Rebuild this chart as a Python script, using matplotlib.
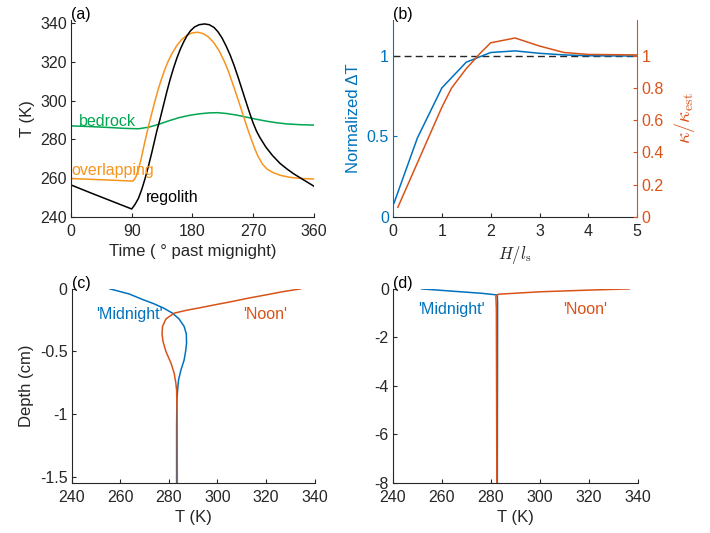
import matplotlib
matplotlib.use("Agg")
from matplotlib import pyplot as plt

plt.rcParams['font.family'] = ['Liberation Sans', 'DejaVu Sans']
plt.rcParams['mathtext.fontset'] = 'cm'
plt.rcParams['axes.unicode_minus'] = False

# couleurs
BLEU = '#0072BD'
ROUGE = '#D95319'
ORANGE = '#F7941D'
VERT = '#00A651'
GRIS = '#262626'

# (a) temperature vs time
t_reg = [0, 30, 60, 90, 95, 100, 105, 110, 115, 120, 127, 132, 137, 142, 147,
         152, 157, 162, 167, 172, 177, 183, 190, 198, 205, 212, 218, 224, 230,
         236, 242, 248, 254, 260, 265, 270, 275, 280, 289, 299, 310, 320, 330,
         343, 360]
T_reg = [256.5, 252.3, 248.2, 244.1, 246.5, 249.6, 254.3, 260, 266.5, 273.5,
         284, 290.5, 297.5, 304.5, 311, 316.8, 322, 326.5, 330.3, 333.5, 336,
         338, 339.2, 339.6, 339.2, 337.8, 335.5, 332.3, 328.2, 323.5, 318,
         311.8, 305.3, 298.8, 293.5, 288.5, 284.3, 281, 276, 271.6, 267.6,
         264.8, 262.3, 259.5, 255.9]

t_ovl = [0, 45, 92, 96, 100, 104, 109, 114, 119, 124, 129, 134, 139, 144, 150,
         157, 164, 172, 180, 188, 196, 204, 212, 220, 227, 233, 240, 247, 252,
         257, 262, 267, 272, 277, 284, 291, 299, 310, 325, 343, 360]
T_ovl = [259.8, 259.2, 258.5, 260.5, 264.5, 270, 278, 285.5, 292.5, 299.2,
         305.5, 311, 316, 320.3, 324.5, 328.5, 331.5, 333.8, 335, 335.3, 334.6,
         332.8, 329.8, 325.5, 320.5, 315.5, 308.5, 301.3, 296, 290.6, 285.3,
         280.4, 275.6, 271.5, 267.2, 264.6, 263.0, 261.5, 260.4, 259.8, 259.6]

t_bed = [0, 30, 60, 80, 100, 115, 130, 145, 160, 175, 190, 205, 217, 230, 245,
         260, 275, 290, 305, 320, 340, 360]
T_bed = [287.0, 286.6, 286.1, 285.7, 285.5, 286.3, 287.8, 289.6, 291.2, 292.4,
         293.2, 293.7, 293.8, 293.4, 292.6, 291.5, 290.4, 289.4, 288.6, 288.0,
         287.6, 287.4]

# (b) normalized dT and kappa ratio
H_dT = [0.02, 0.5, 1.0, 1.5, 2.0, 2.5, 3.0, 3.5, 4.0, 5.0]
dT = [0.085, 0.49, 0.80, 0.96, 1.02, 1.03, 1.015, 1.005, 1.0, 0.998]
H_k = [0.1, 1.0, 1.2, 1.5, 1.8, 2.0, 2.5, 3.0, 3.5, 4.0, 5.0]
kap = [0.06, 0.68, 0.80, 0.92, 1.02, 1.08, 1.11, 1.06, 1.02, 1.008, 1.005]

# (c) profiles, shallow
Tc_mid = [255.7, 263.6, 269.2, 274, 278, 281.5, 284.2, 286.3, 287.2, 287.3,
          286.9, 286.3, 285.0, 284.0, 283.6, 283.3, 283.2, 283.2]
zc_mid = [0, -0.04, -0.085, -0.12, -0.155, -0.194, -0.24, -0.30, -0.36, -0.434,
          -0.50, -0.568, -0.647, -0.727, -0.81, -0.9, -1.1, -1.56]
Tc_noon = [334.2, 327, 320, 313, 306.3, 299, 292.5, 287, 282.2, 278.8, 277.4,
           277.2, 277.6, 278.8, 280.9, 282.2, 282.9, 283.2, 283.4, 283.5]
zc_noon = [0, -0.022, -0.048, -0.073, -0.10, -0.127, -0.152, -0.172, -0.194,
           -0.24, -0.30, -0.36, -0.42, -0.50, -0.594, -0.674, -0.754, -0.81,
           -1.0, -1.56]

# (d) profiles, deep
Td_mid = [251.6, 265, 276, 282.6, 282.7, 282.6]
zd_mid = [0, -0.1, -0.18, -0.25, -0.6, -8]
Td_noon = [336.5, 320, 300, 283, 282, 282.2, 282.4]
zd_noon = [0, -0.05, -0.12, -0.22, -0.3, -0.8, -8]

TAILLE = 11.5   # graduations et annotations
TLAB = 12       # titres des axes


def style(ax):
    for s in ['top', 'right']:
        ax.spines[s].set_visible(False)
    for s in ['left', 'bottom']:
        ax.spines[s].set_color(GRIS)
        ax.spines[s].set_linewidth(0.8)
    ax.tick_params(direction='in', length=3, colors=GRIS, labelsize=TAILLE,
                   width=0.8)
    ax.tick_params(axis='x', pad=5)
    ax.tick_params(axis='y', pad=3)


def lettre(ax, txt):
    ax.text(0.0, 0.99, txt, transform=ax.transAxes, ha='left', va='bottom',
            fontsize=TAILLE, color='black')


fig = plt.figure(figsize=(7.1, 5.33), dpi=100)
axa = fig.add_axes([0.100, 0.593, 0.342, 0.369])
axb = fig.add_axes([0.5535, 0.593, 0.344, 0.369])
axc = fig.add_axes([0.101, 0.094, 0.342, 0.364])
axd = fig.add_axes([0.5535, 0.094, 0.345, 0.364])

# (a)
style(axa)
axa.plot(t_bed, T_bed, color=VERT, lw=1.1)
axa.plot(t_ovl, T_ovl, color=ORANGE, lw=1.1)
axa.plot(t_reg, T_reg, color='black', lw=1.1)
axa.set_xlim(0, 360)
axa.set_ylim(240, 341.5)
axa.set_xticks([0, 90, 180, 270, 360])
axa.set_yticks(range(240, 341, 20))
axa.set_xlabel('Time ( ° past mignight)', fontsize=TLAB, color=GRIS)
axa.set_ylabel('T (K)', fontsize=TLAB, color=GRIS)
axa.text(12, 289.5, 'bedrock', color=VERT, fontsize=TAILLE, va='center')
axa.text(1, 264, 'overlapping', color=ORANGE, fontsize=TAILLE, va='center')
axa.text(111, 249.8, 'regolith', color='black', fontsize=TAILLE, va='center')
lettre(axa, '(a)')

# (b)
style(axb)
axb.spines['left'].set_color(BLEU)
axb.tick_params(axis='y', colors=BLEU)
axb.plot([0, 5], [1, 1], '--', color=GRIS, lw=1.0, dashes=(5, 3))
axb.plot(H_dT, dT, color=BLEU, lw=1.1)
axb.set_xlim(0, 5)
axb.set_ylim(0, 1.22)
axb.set_yticks([0, 0.5, 1])
axb.set_yticklabels(['0', '0.5', '1'])
axb.set_xlabel(r'$H/l_{\rm s}$', fontsize=TLAB, color=GRIS)
axb.set_ylabel('Normalized ΔT', fontsize=TLAB, color=BLEU)
axk = axb.twinx()
for s in ['top', 'left', 'bottom']:
    axk.spines[s].set_visible(False)
axk.spines['right'].set_color(ROUGE)
axk.spines['right'].set_linewidth(0.8)
axk.tick_params(direction='in', length=3, colors=ROUGE, labelsize=TAILLE,
                width=0.8, pad=3)
axk.plot(H_k, kap, color=ROUGE, lw=1.1)
axk.set_ylim(0, 1.22)
axk.set_yticks([0, 0.2, 0.4, 0.6, 0.8, 1])
axk.set_yticklabels(['0', '0.2', '0.4', '0.6', '0.8', '1'])
axk.set_ylabel(r'$\kappa/\kappa_{\rm est}$', fontsize=14.5, color=ROUGE,
               labelpad=6)
lettre(axb, '(b)')

# (c)
style(axc)
axc.plot(Tc_mid, zc_mid, color=BLEU, lw=1.1)
axc.plot(Tc_noon, zc_noon, color=ROUGE, lw=1.1)
axc.set_xlim(240, 340)
axc.set_ylim(-1.55, 0)
axc.set_xticks(range(240, 341, 20))
axc.set_yticks([0, -0.5, -1, -1.5])
axc.set_yticklabels(['0', '-0.5', '-1', '-1.5'])
axc.set_xlabel('T (K)', fontsize=TLAB, color=GRIS)
axc.set_ylabel('Depth (cm)', fontsize=TLAB, color=GRIS)
axc.text(250, -0.208, "'Midnight'", color=BLEU, fontsize=TAILLE, va='center')
axc.text(310.4, -0.208, "'Noon'", color=ROUGE, fontsize=TAILLE, va='center')
lettre(axc, '(c)')

# (d)
style(axd)
axd.plot(Td_mid, zd_mid, color=BLEU, lw=1.1)
axd.plot(Td_noon, zd_noon, color=ROUGE, lw=1.1)
axd.set_xlim(240, 340)
axd.set_ylim(-8, 0)
axd.set_xticks(range(240, 341, 20))
axd.set_yticks([0, -2, -4, -6, -8])
axd.set_yticklabels(['0', '-2', '-4', '-6', '-8'])
axd.set_xlabel('T (K)', fontsize=TLAB, color=GRIS)
axd.text(250.3, -0.86, "'Midnight'", color=BLEU, fontsize=TAILLE, va='center')
axd.text(309.6, -0.86, "'Noon'", color=ROUGE, fontsize=TAILLE, va='center')
lettre(axd, '(d)')

fig.savefig('out.png', dpi=100)
